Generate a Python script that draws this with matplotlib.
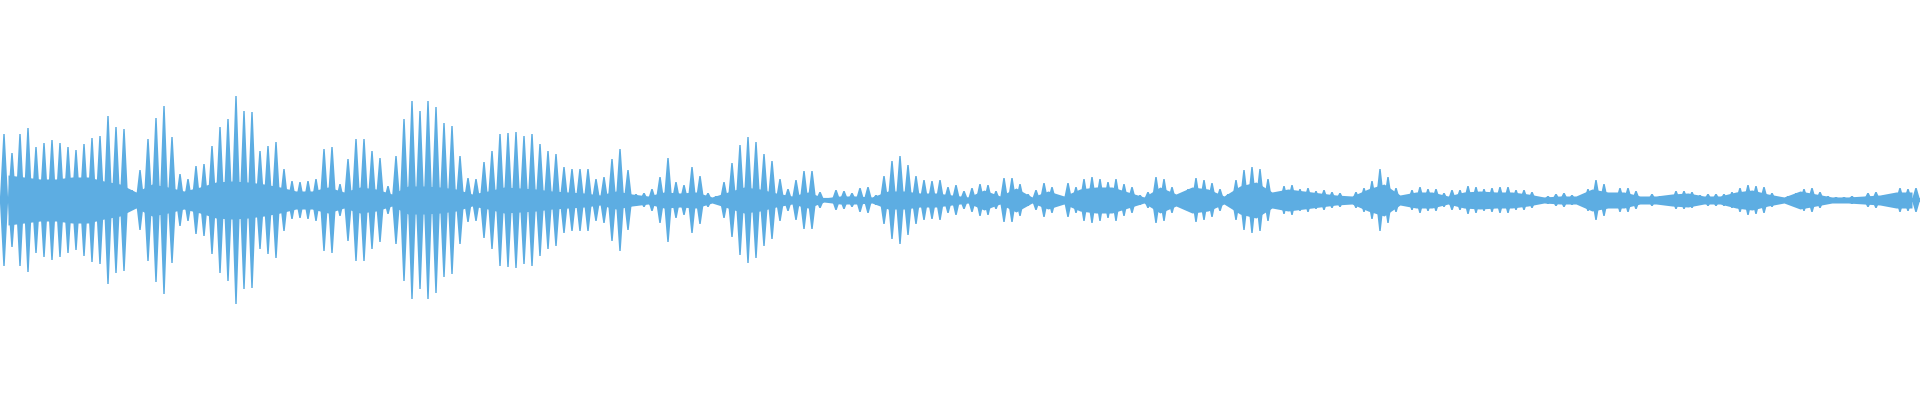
import numpy as np
import matplotlib
matplotlib.use('Agg')
import matplotlib.pyplot as plt
from matplotlib.collections import PolyCollection

# peak amplitude of each 0.05 s frame (one glottal spike per frame)
peak_amp = [
    # 0 - 2 s
    0.66, 0.47, 0.66, 0.72, 0.53, 0.57, 0.60, 0.57, 0.53, 0.50,
    0.56, 0.62, 0.64, 0.84, 0.73, 0.71, 0.10, 0.30, 0.61, 0.82,
    0.94, 0.63, 0.26, 0.21, 0.34, 0.36, 0.54, 0.73, 0.81, 1.04,
    0.89, 0.88, 0.49, 0.54, 0.58, 0.31, 0.19, 0.18, 0.19, 0.21,
    # 2 - 4 s
    0.51, 0.53, 0.16, 0.41, 0.61, 0.61, 0.49, 0.42, 0.14, 0.44,
    0.81, 0.99, 0.89, 0.99, 0.93, 0.77, 0.74, 0.44, 0.22, 0.21,
    0.38, 0.49, 0.66, 0.67, 0.68, 0.64, 0.66, 0.56, 0.49, 0.46,
    0.33, 0.31, 0.31, 0.31, 0.21, 0.23, 0.41, 0.51, 0.30, 0.06,
    # 4 - 6 s
    0.07, 0.11, 0.23, 0.42, 0.18, 0.15, 0.33, 0.24, 0.07, 0.04,
    0.18, 0.37, 0.55, 0.63, 0.58, 0.46, 0.39, 0.21, 0.11, 0.20,
    0.29, 0.29, 0.08, 0.02, 0.10, 0.09, 0.07, 0.12, 0.13, 0.05,
    0.24, 0.39, 0.44, 0.35, 0.24, 0.20, 0.19, 0.20, 0.13, 0.15,
    # 6 - 8 s
    0.09, 0.12, 0.16, 0.15, 0.09, 0.22, 0.22, 0.16, 0.06, 0.10,
    0.17, 0.13, 0.04, 0.17, 0.13, 0.21, 0.23, 0.21, 0.18, 0.21,
    0.16, 0.13, 0.05, 0.08, 0.23, 0.21, 0.13, 0.06, 0.11, 0.22,
    0.20, 0.17, 0.11, 0.06, 0.20, 0.30, 0.33, 0.31, 0.21, 0.07,
    # 8 - 10 s
    0.14, 0.15, 0.11, 0.12, 0.09, 0.10, 0.08, 0.07, 0.03, 0.08,
    0.12, 0.19, 0.31, 0.23, 0.12, 0.03, 0.10, 0.13, 0.11, 0.11,
    0.07, 0.10, 0.10, 0.14, 0.13, 0.11, 0.12, 0.13, 0.13, 0.10,
    0.10, 0.08, 0.02, 0.04, 0.06, 0.07, 0.05, 0.04, 0.11, 0.20,
    # 10 - 12 s
    0.16, 0.06, 0.12, 0.12, 0.09, 0.03, 0.06, 0.04, 0.02, 0.09,
    0.09, 0.08, 0.05, 0.06, 0.06, 0.06, 0.08, 0.12, 0.15, 0.14,
    0.13, 0.07, 0.02, 0.04, 0.07, 0.11, 0.12, 0.08, 0.04, 0.03,
    0.03, 0.04, 0.02, 0.07, 0.08, 0.05, 0.06, 0.12, 0.11, 0.12,
]

# level of the dense body of the wave, one value per 0.1 s
body_amp = [
    0.25, 0.23, 0.21, 0.21, 0.23, 0.23, 0.19, 0.16, 0.08, 0.16,
    0.13, 0.09, 0.13, 0.18, 0.19, 0.18, 0.16, 0.13, 0.09, 0.09,
    0.13, 0.08, 0.13, 0.11, 0.06, 0.14, 0.14, 0.13, 0.11, 0.06,
    0.09, 0.13, 0.12, 0.11, 0.09, 0.08, 0.07, 0.05, 0.09, 0.06,
    0.04, 0.08, 0.07, 0.08, 0.03, 0.08, 0.13, 0.11, 0.07, 0.04,
    0.08, 0.02, 0.04, 0.04, 0.03, 0.09, 0.09, 0.07, 0.07, 0.05,
    0.03, 0.10, 0.04, 0.12, 0.03, 0.09, 0.04, 0.11, 0.13, 0.13,
    0.08, 0.03, 0.13, 0.06, 0.13, 0.11, 0.04, 0.14, 0.18, 0.08,
    0.11, 0.09, 0.07, 0.05, 0.04, 0.11, 0.16, 0.05, 0.08, 0.08,
    0.04, 0.08, 0.09, 0.08, 0.08, 0.06, 0.03, 0.04, 0.04, 0.11,
    0.08, 0.08, 0.04, 0.04, 0.06, 0.07, 0.04, 0.04, 0.08, 0.10,
    0.06, 0.03, 0.09, 0.06, 0.03, 0.03, 0.04, 0.05, 0.08, 0.08,
]

peak_step = 0.05   # seconds per peak frame
body_step = 0.1    # seconds per body frame
wave_color = '#5dade2'

# spike shape: narrow top, wider base (in seconds)
spike_top = 0.0045
spike_base = 0.026

peak = np.array(peak_amp)
body = np.array(body_amp)
duration = len(peak) * peak_step

# frame centres in seconds
t_peak = (np.arange(len(peak)) + 0.5) * peak_step
t_body = (np.arange(len(body)) + 0.5) * body_step

fig = plt.figure(figsize=(19.2, 4), dpi=100)
ax = fig.add_axes([0, 0, 1, 1])

# dense middle of the waveform
ax.fill_between(t_body, -body, body, color=wave_color, linewidth=0)
# thin centre line that is always there
ax.axhline(0, color=wave_color, linewidth=3)

# one tapered spike per frame
verts = []
for t, p in zip(t_peak, peak):
    verts.append([(t - spike_base, 0), (t - spike_top, p), (t + spike_top, p),
                  (t + spike_base, 0), (t + spike_top, -p), (t - spike_top, -p)])
ax.add_collection(PolyCollection(verts, facecolors=wave_color, linewidths=0))

ax.set_xlim(0, duration)
ax.set_ylim(-2, 2)
ax.axis('off')

fig.savefig('out.png', dpi=100, facecolor='white')
